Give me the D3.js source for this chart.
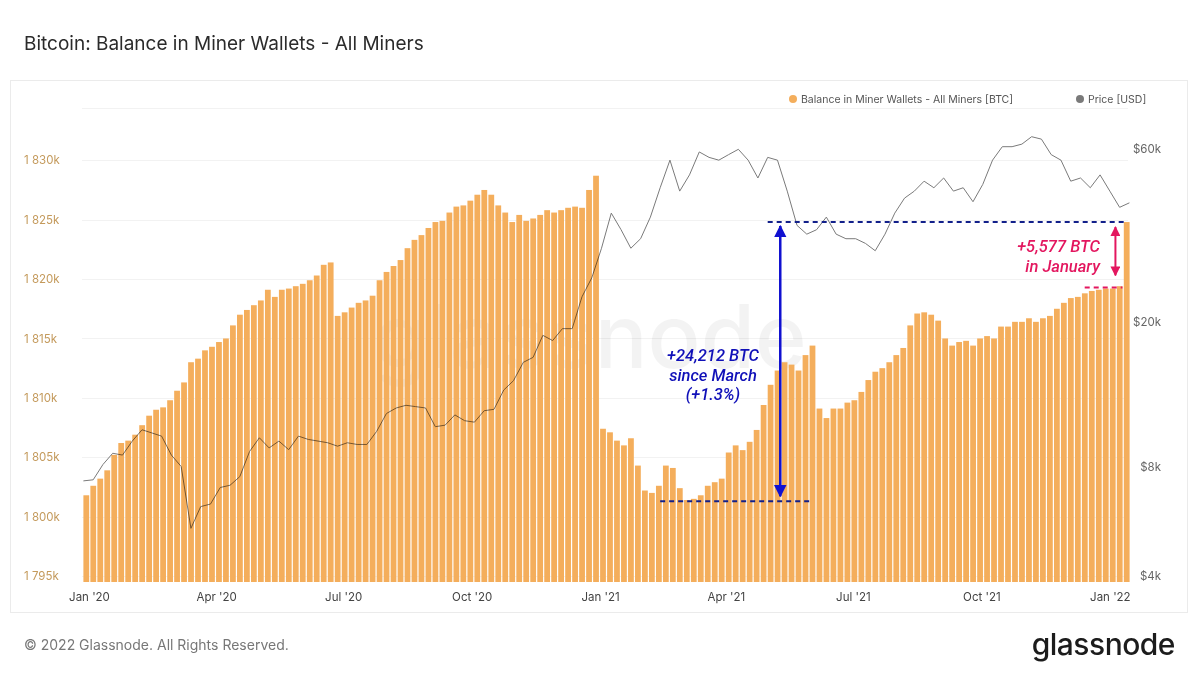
<!DOCTYPE html>
<html>
<head>
<meta charset="utf-8">
<script src="https://cdn.jsdelivr.net/npm/d3@7"></script>
<style>
  body { margin: 0; background: #fff; font-family: Inter, "Noto Sans", sans-serif; }
</style>
</head>
<body>
<svg id="chart" width="1200" height="675"></svg>
<script>
// balance in miner wallets, thousand BTC, one bar every 5 days from 28 Dec 2019
const balanceStart = new Date(2019, 11, 28);
const balanceStepDays = 5;
const balance = [
  1801.8, 1802.6, 1803.2, 1803.9, 1805.2, 1806.2, 1806.4, 1806.9, 1807.7, 1808.5,
  1809.0, 1809.2, 1809.8, 1810.6, 1811.3, 1813.0, 1813.3, 1814.0, 1814.3, 1814.7,
  1815.0, 1816.1, 1817.0, 1817.4, 1817.8, 1818.2, 1819.1, 1818.5, 1819.1, 1819.2,
  1819.4, 1819.6, 1819.9, 1820.3, 1821.2, 1821.4, 1816.9, 1817.2, 1817.6, 1818.0,
  1818.2, 1818.6, 1819.9, 1820.6, 1821.1, 1821.6, 1822.6, 1823.3, 1823.7, 1824.3,
  1824.8, 1824.9, 1825.6, 1826.1, 1826.2, 1826.6, 1827.1, 1827.5, 1827.1, 1826.2,
  1825.6, 1824.8, 1825.4, 1824.9, 1825.1, 1825.4, 1825.8, 1825.6, 1825.8, 1826.0,
  1826.1, 1826.0, 1827.5, 1828.7, 1807.4, 1807.1, 1806.4, 1806.0, 1806.6, 1804.3,
  1802.2, 1802.0, 1802.6, 1804.3, 1804.1, 1802.4, 1801.4, 1801.5, 1801.8, 1802.6,
  1802.9, 1803.2, 1805.4, 1806.0, 1805.6, 1806.3, 1807.3, 1809.4, 1811.1, 1812.3,
  1813.0, 1812.8, 1812.3, 1813.6, 1814.4, 1809.1, 1808.3, 1809.1, 1809.1, 1809.6,
  1809.8, 1810.5, 1811.5, 1812.2, 1812.5, 1813.0, 1813.6, 1814.2, 1816.1, 1817.1,
  1817.2, 1817.0, 1816.5, 1815.0, 1814.4, 1814.7, 1814.8, 1814.4, 1815.0, 1815.2,
  1815.0, 1816.0, 1816.0, 1816.4, 1816.4, 1816.7, 1816.4, 1816.7, 1816.9, 1817.5,
  1818.0, 1818.4, 1818.5, 1818.8, 1819.0, 1819.1, 1819.2, 1819.2, 1819.4, 1824.8
];

// BTC price in USD, weekly from 28 Dec 2019
const priceStart = new Date(2019, 11, 28);
const price = [
  7300, 7350, 8100, 8700, 8600, 9400, 10100, 9900, 9700, 8600,
  8000, 5400, 6200, 6300, 7000, 7100, 7500, 8800, 9600, 9000,
  9400, 8900, 9700, 9500, 9400, 9300, 9100, 9300, 9200, 9200,
  10000, 11200, 11600, 11800, 11700, 11600, 10300, 10400, 11100, 10700,
  10600, 11400, 11500, 13000, 13800, 15500, 16000, 18400, 17800, 19200,
  19200, 23500, 26500, 32000, 40000, 36000, 32000, 34000, 39000, 47000,
  56000, 46000, 51000, 59000, 57000, 56000, 58000, 60000, 56000, 50000,
  57000, 56000, 46000, 37000, 35000, 36000, 39000, 35000, 34000, 34000,
  33000, 31500, 35000, 40000, 44000, 46000, 49000, 47000, 50000, 46000,
  47000, 43000, 48000, 56000, 61000, 61000, 62000, 65000, 64000, 58000,
  56000, 49000, 50000, 47000, 51000, 46000, 41500, 42700
];

const balanceTicks = [1795, 1800, 1805, 1810, 1815, 1820, 1825, 1830];
const priceTicks = [4000, 8000, 20000, 60000];
const monthTicks = [
  new Date(2020, 0, 1), new Date(2020, 3, 1), new Date(2020, 6, 1), new Date(2020, 9, 1),
  new Date(2021, 0, 1), new Date(2021, 3, 1), new Date(2021, 6, 1), new Date(2021, 9, 1),
  new Date(2022, 0, 1)
];

const dayMs = 86400000;
const balanceDates = balance.map((v, i) => new Date(balanceStart.getTime() + i * balanceStepDays * dayMs));
const priceDates = price.map((v, i) => new Date(priceStart.getTime() + i * 7 * dayMs));

const svg = d3.select("#chart");
const plotLeft = 82, plotRight = 1128, plotTop = 108, plotBottom = 582;

const x = d3.scaleTime()
  .domain([new Date(2019, 11, 27), new Date(2022, 0, 14)])
  .range([plotLeft, plotRight]);
const yBal = d3.scaleLinear().domain([1794.5, 1834.4]).range([plotBottom, plotTop]);
const yPrice = d3.scaleLog().domain([3840, 78000]).range([plotBottom, plotTop]);

// title, frame, footer
svg.append("text").attr("x", 24).attr("y", 50).attr("font-size", 19)
  .attr("fill", "#2b2b2b").text("Bitcoin: Balance in Miner Wallets - All Miners");
svg.append("rect").attr("x", 10.5).attr("y", 80.5).attr("width", 1177).attr("height", 532)
  .attr("fill", "none").attr("stroke", "#ebebeb");
svg.append("text").attr("x", 24).attr("y", 650).attr("font-size", 14)
  .attr("fill", "#777").text("© 2022 Glassnode. All Rights Reserved.");
svg.append("text").attr("x", 1175).attr("y", 655).attr("text-anchor", "end")
  .attr("font-size", 30).attr("font-weight", 500).attr("letter-spacing", -0.5)
  .attr("fill", "#1c1c1c").text("glassnode");

// grid
svg.append("g").selectAll("line").data(balanceTicks.concat([1834.4])).join("line")
  .attr("x1", plotLeft).attr("x2", plotRight)
  .attr("y1", d => Math.round(yBal(d)) + 0.5).attr("y2", d => Math.round(yBal(d)) + 0.5)
  .attr("stroke", "#f2f2f2");

// watermark
svg.append("text").attr("x", 590).attr("y", 368).attr("text-anchor", "middle")
  .attr("font-size", 88).attr("font-weight", 500).attr("fill", "#000").attr("opacity", 0.045)
  .text("glassnode");

// bars
const barW = (x(new Date(2020, 0, 6)) - x(new Date(2020, 0, 1))) - 1.2;
svg.append("g").selectAll("rect").data(balance).join("rect")
  .attr("x", (d, i) => x(balanceDates[i]))
  .attr("width", barW)
  .attr("y", d => yBal(d))
  .attr("height", d => plotBottom - yBal(d))
  .attr("fill", "#f4ae5c");

// price line
svg.append("path").datum(price)
  .attr("d", d3.line().x((d, i) => x(priceDates[i])).y(d => yPrice(d)))
  .attr("fill", "none").attr("stroke", "#7a7a7a").attr("stroke-width", 1)
  .style("mix-blend-mode", "multiply");

// axes
const axisLeft = svg.append("g").attr("transform", `translate(${plotLeft - 8},0)`)
  .call(d3.axisLeft(yBal).tickValues(balanceTicks).tickSize(0)
    .tickFormat(d => d3.format(",")(d).replace(",", " ") + "k"));
axisLeft.select(".domain").remove();
axisLeft.selectAll("text").attr("fill", "#c49a5c").attr("font-size", 11.5)
  .attr("font-family", "Inter, sans-serif").attr("text-anchor", "start").attr("x", -50);

const axisRight = svg.append("g").attr("transform", `translate(${plotRight + 30},0)`)
  .call(d3.axisRight(yPrice).tickValues(priceTicks).tickSize(0)
    .tickFormat(d => "$" + d / 1000 + "k"));
axisRight.select(".domain").remove();
axisRight.selectAll("text").attr("fill", "#666").attr("font-size", 11.5)
  .attr("font-family", "Inter, sans-serif").attr("text-anchor", "end");

const axisBottom = svg.append("g").attr("transform", `translate(0,${plotBottom + 8})`)
  .call(d3.axisBottom(x).tickValues(monthTicks).tickSize(0)
    .tickFormat(d => d3.timeFormat("%b '%y")(d)));
axisBottom.select(".domain").remove();
axisBottom.selectAll("text").attr("fill", "#444").attr("font-size", 11.5)
  .attr("font-family", "Inter, sans-serif");

// legend
const legend = [
  { label: "Balance in Miner Wallets - All Miners [BTC]", color: "#f4ae5c", x: 793 },
  { label: "Price [USD]", color: "#7a7a7a", x: 1080 }
];
const lg = svg.append("g").selectAll("g").data(legend).join("g")
  .attr("transform", d => `translate(${d.x},99)`);
lg.append("circle").attr("r", 4).attr("fill", d => d.color);
lg.append("text").attr("x", 8).attr("y", 4).attr("font-size", 10.5).attr("fill", "#555").text(d => d.label);

// annotations
const defs = svg.append("defs");
[["blueHead", "#1010d0"], ["pinkHead", "#e3175f"]].forEach(([id, c]) => {
  defs.append("marker").attr("id", id).attr("viewBox", "0 0 10 10").attr("refX", 9).attr("refY", 5)
    .attr("markerWidth", 5).attr("markerHeight", 5).attr("orient", "auto-start-reverse")
    .append("path").attr("d", "M0,0L10,5L0,10z").attr("fill", c);
});

const hiBal = balance[balance.length - 1];
const marchLow = 1801.3;
const decBal = 1819.3;
const dash = (x1, x2, v, c) => svg.append("line")
  .attr("x1", x1).attr("x2", x2).attr("y1", yBal(v)).attr("y2", yBal(v))
  .attr("stroke", c).attr("stroke-width", 2).attr("stroke-dasharray", "5,4");
dash(x(new Date(2021, 4, 1)), x(new Date(2022, 0, 12)), hiBal, "#12208a");
dash(x(new Date(2021, 1, 13)), x(new Date(2021, 5, 1)), marchLow, "#12208a");
dash(x(new Date(2021, 11, 14)), x(new Date(2022, 0, 10)), decBal, "#e3175f");

svg.append("line").attr("x1", x(new Date(2021, 4, 10))).attr("x2", x(new Date(2021, 4, 10)))
  .attr("y1", yBal(hiBal) + 4).attr("y2", yBal(marchLow) - 5)
  .attr("stroke", "#1010d0").attr("stroke-width", 2.5)
  .attr("marker-start", "url(#blueHead)").attr("marker-end", "url(#blueHead)");
svg.append("line").attr("x1", x(new Date(2022, 0, 5))).attr("x2", x(new Date(2022, 0, 5)))
  .attr("y1", yBal(hiBal) + 5).attr("y2", yBal(decBal) - 12)
  .attr("stroke", "#e3175f").attr("stroke-width", 2)
  .attr("marker-start", "url(#pinkHead)").attr("marker-end", "url(#pinkHead)");

const note = (tx, ty, lines, c, anchor) => svg.append("text")
  .attr("x", tx).attr("y", ty).attr("text-anchor", anchor)
  .attr("font-size", 16.5).attr("font-style", "italic").attr("font-weight", 500)
  .attr("font-family", "Roboto, sans-serif").attr("fill", c)
  .selectAll("tspan").data(lines).join("tspan")
  .attr("x", tx).attr("dy", (d, i) => i ? 19.5 : 0).text(d => d);
note(713, 361, ["+24,212 BTC", "since March", "(+1.3%)"], "#1010b8", "middle");
note(1100, 252, ["+5,577 BTC", "in January"], "#e3175f", "end");
</script>
</body>
</html>
